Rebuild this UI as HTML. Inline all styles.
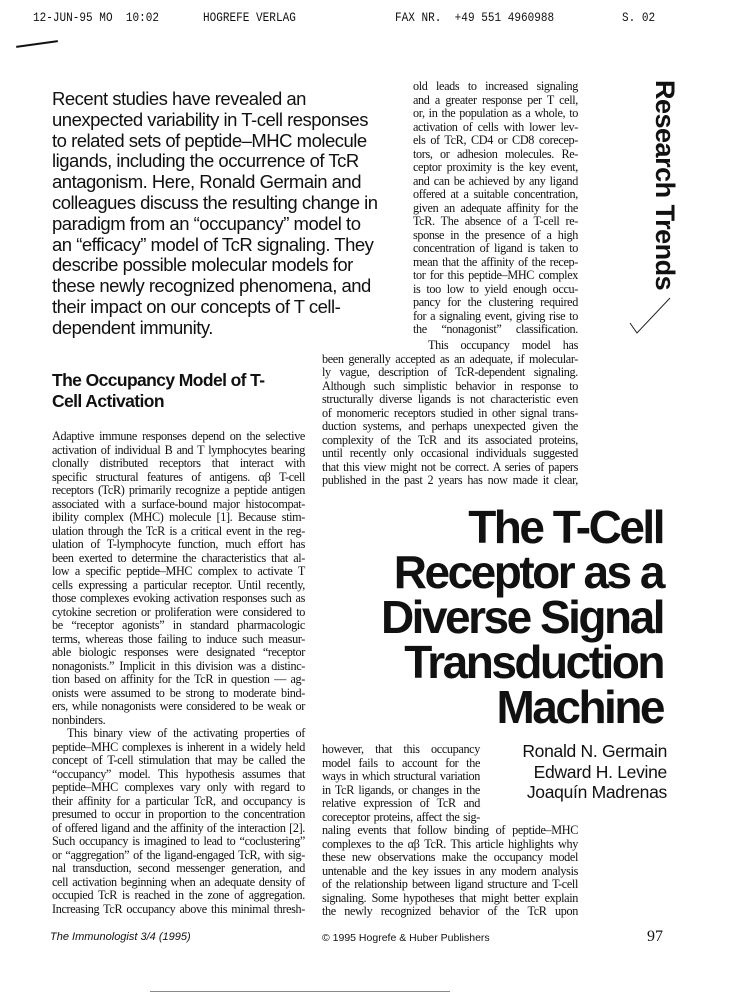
<!DOCTYPE html>
<html><head><meta charset="utf-8"><style>
body{margin:0;background:#fff;}
#p{position:relative;width:754px;height:1000px;overflow:hidden;background:#fff;color:#111;}
.a{position:absolute;white-space:nowrap;}
.hd{font-family:"Liberation Mono",monospace;font-size:13px;top:10px;transform:scaleX(0.85);transform-origin:left;}
.ab{position:absolute;left:52px;top:89px;font-family:"Liberation Sans",sans-serif;font-size:18.5px;line-height:20.8px;letter-spacing:-0.5px;}
.col div{text-align:justify;text-align-last:justify;white-space:nowrap;height:13.5px;overflow:visible;}
.col{position:absolute;font-family:"Liberation Serif",serif;font-size:12.2px;line-height:13.5px;letter-spacing:-0.35px;}
.ti{position:absolute;right:91px;top:505px;text-align:right;font-family:"Liberation Sans",sans-serif;font-weight:bold;font-size:46px;line-height:45px;letter-spacing:-2.5px;}
.au{position:absolute;right:87px;top:741px;text-align:right;font-family:"Liberation Sans",sans-serif;font-size:17.5px;line-height:20.5px;letter-spacing:-0.3px;}
</style></head><body><div id="p">
<div class="a hd" style="left:33px">12-JUN-95 MO &nbsp;10:02</div>
<div class="a hd" style="left:203px">HOGREFE VERLAG</div>
<div class="a hd" style="left:395px">FAX NR. &nbsp;+49 551 4960988</div>
<div class="a hd" style="left:622px">S. 02</div>
<div class="a" style="left:16px;top:43px;width:42px;height:2px;background:#111;transform:rotate(-8deg)"></div>

<div class="ab">Recent studies have revealed an<br>unexpected variability in T-cell responses<br>to related sets of peptide–MHC molecule<br>ligands, including the occurrence of TcR<br>antagonism. Here, Ronald Germain and<br>colleagues discuss the resulting change in<br>paradigm from an “occupancy” model to<br>an “efficacy” model of TcR signaling. They<br>describe possible molecular models for<br>these newly recognized phenomena, and<br>their impact on our concepts of T cell-<br>dependent immunity.</div>

<div class="col" style="left:413px;top:80px;width:165px">
<div>old leads to increased signaling</div><div>and a greater response per T cell,</div><div>or, in the population as a whole, to</div><div>activation of cells with lower lev-</div><div>els of TcR, CD4 or CD8 corecep-</div><div>tors, or adhesion molecules. Re-</div><div>ceptor proximity is the key event,</div><div>and can be achieved by any ligand</div><div>offered at a suitable concentration,</div><div>given an adequate affinity for the</div><div>TcR. The absence of a T-cell re-</div><div>sponse in the presence of a high</div><div>concentration of ligand is taken to</div><div>mean that the affinity of the recep-</div><div>tor for this peptide–MHC complex</div><div>is too low to yield enough occu-</div><div>pancy for the clustering required</div><div>for a signaling event, giving rise to</div><div>the “nonagonist” classification.</div>
</div>
<div class="col" style="left:322px;top:339px;width:256px">
<div style="padding-left:106px">This occupancy model has</div><div>been generally accepted as an adequate, if molecular-</div><div>ly vague, description of TcR-dependent signaling.</div><div>Although such simplistic behavior in response to</div><div>structurally diverse ligands is not characteristic even</div><div>of monomeric receptors studied in other signal trans-</div><div>duction systems, and perhaps unexpected given the</div><div>complexity of the TcR and its associated proteins,</div><div>until recently only occasional individuals suggested</div><div>that this view might not be correct. A series of papers</div><div>published in the past 2 years has now made it clear,</div>
</div>

<div class="a" style="left:652px;top:80px;font-family:'Liberation Sans',sans-serif;font-weight:bold;font-size:27px;transform:rotate(90deg);transform-origin:0 0;left:680px;letter-spacing:-0.5px">Research Trends</div>
<svg class="a" style="left:625px;top:295px" width="50" height="45"><path d="M5 28 L12 38 L45 3" stroke="#222" stroke-width="1" fill="none"/></svg>

<div class="a" style="left:52px;top:370px;font-family:'Liberation Sans',sans-serif;font-size:17.5px;line-height:21px;letter-spacing:-0.6px;font-weight:bold">The Occupancy Model of T-<br>Cell Activation</div>

<div class="col" style="left:52px;top:430px;width:253px">
<div>Adaptive immune responses depend on the selective</div><div>activation of individual B and T lymphocytes bearing</div><div>clonally distributed receptors that interact with</div><div>specific structural features of antigens. αβ T-cell</div><div>receptors (TcR) primarily recognize a peptide antigen</div><div>associated with a surface-bound major histocompat-</div><div>ibility complex (MHC) molecule [1]. Because stim-</div><div>ulation through the TcR is a critical event in the reg-</div><div>ulation of T-lymphocyte function, much effort has</div><div>been exerted to determine the characteristics that al-</div><div>low a specific peptide–MHC complex to activate T</div><div>cells expressing a particular receptor. Until recently,</div><div>those complexes evoking activation responses such as</div><div>cytokine secretion or proliferation were considered to</div><div>be “receptor agonists” in standard pharmacologic</div><div>terms, whereas those failing to induce such measur-</div><div>able biologic responses were designated “receptor</div><div>nonagonists.” Implicit in this division was a distinc-</div><div>tion based on affinity for the TcR in question — ag-</div><div>onists were assumed to be strong to moderate bind-</div><div>ers, while nonagonists were considered to be weak or</div><div style="text-align-last:left">nonbinders.</div><div style="padding-left:15px">This binary view of the activating properties of</div><div>peptide–MHC complexes is inherent in a widely held</div><div>concept of T-cell stimulation that may be called the</div><div>“occupancy” model. This hypothesis assumes that</div><div>peptide–MHC complexes vary only with regard to</div><div>their affinity for a particular TcR, and occupancy is</div><div>presumed to occur in proportion to the concentration</div><div>of offered ligand and the affinity of the interaction [2].</div><div>Such occupancy is imagined to lead to “coclustering”</div><div>or “aggregation” of the ligand-engaged TcR, with sig-</div><div>nal transduction, second messenger generation, and</div><div>cell activation beginning when an adequate density of</div><div>occupied TcR is reached in the zone of aggregation.</div><div>Increasing TcR occupancy above this minimal thresh-</div>
</div>

<div class="ti">The T-Cell<br>Receptor as a<br>Diverse Signal<br>Transduction<br>Machine</div>
<div class="au">Ronald N. Germain<br>Edward H. Levine<br>Joaquín Madrenas</div>

<div class="col" style="left:322px;top:743px;width:158px">
<div>however, that this occupancy</div><div>model fails to account for the</div><div>ways in which structural variation</div><div>in TcR ligands, or changes in the</div><div>relative expression of TcR and</div><div>coreceptor proteins, affect the sig-</div>
</div>
<div class="col" style="left:322px;top:824px;width:256px">
<div>naling events that follow binding of peptide–MHC</div><div>complexes to the αβ TcR. This article highlights why</div><div>these new observations make the occupancy model</div><div>untenable and the key issues in any modern analysis</div><div>of the relationship between ligand structure and T-cell</div><div>signaling. Some hypotheses that might better explain</div><div>the newly recognized behavior of the TcR upon</div>
</div>

<div class="a" style="left:50px;top:931px;font-family:'Liberation Sans',sans-serif;font-style:italic;font-size:11px">The Immunologist 3/4 (1995)</div>
<div class="a" style="left:322px;top:932px;font-family:'Liberation Sans',sans-serif;font-size:10.5px">© 1995 Hogrefe &amp; Huber Publishers</div>
<div class="a" style="left:647px;top:928px;font-family:'Liberation Serif',serif;font-size:16px">97</div>
<div class="a" style="left:150px;top:991px;width:300px;height:1px;background:#888"></div>
</div></body></html>
